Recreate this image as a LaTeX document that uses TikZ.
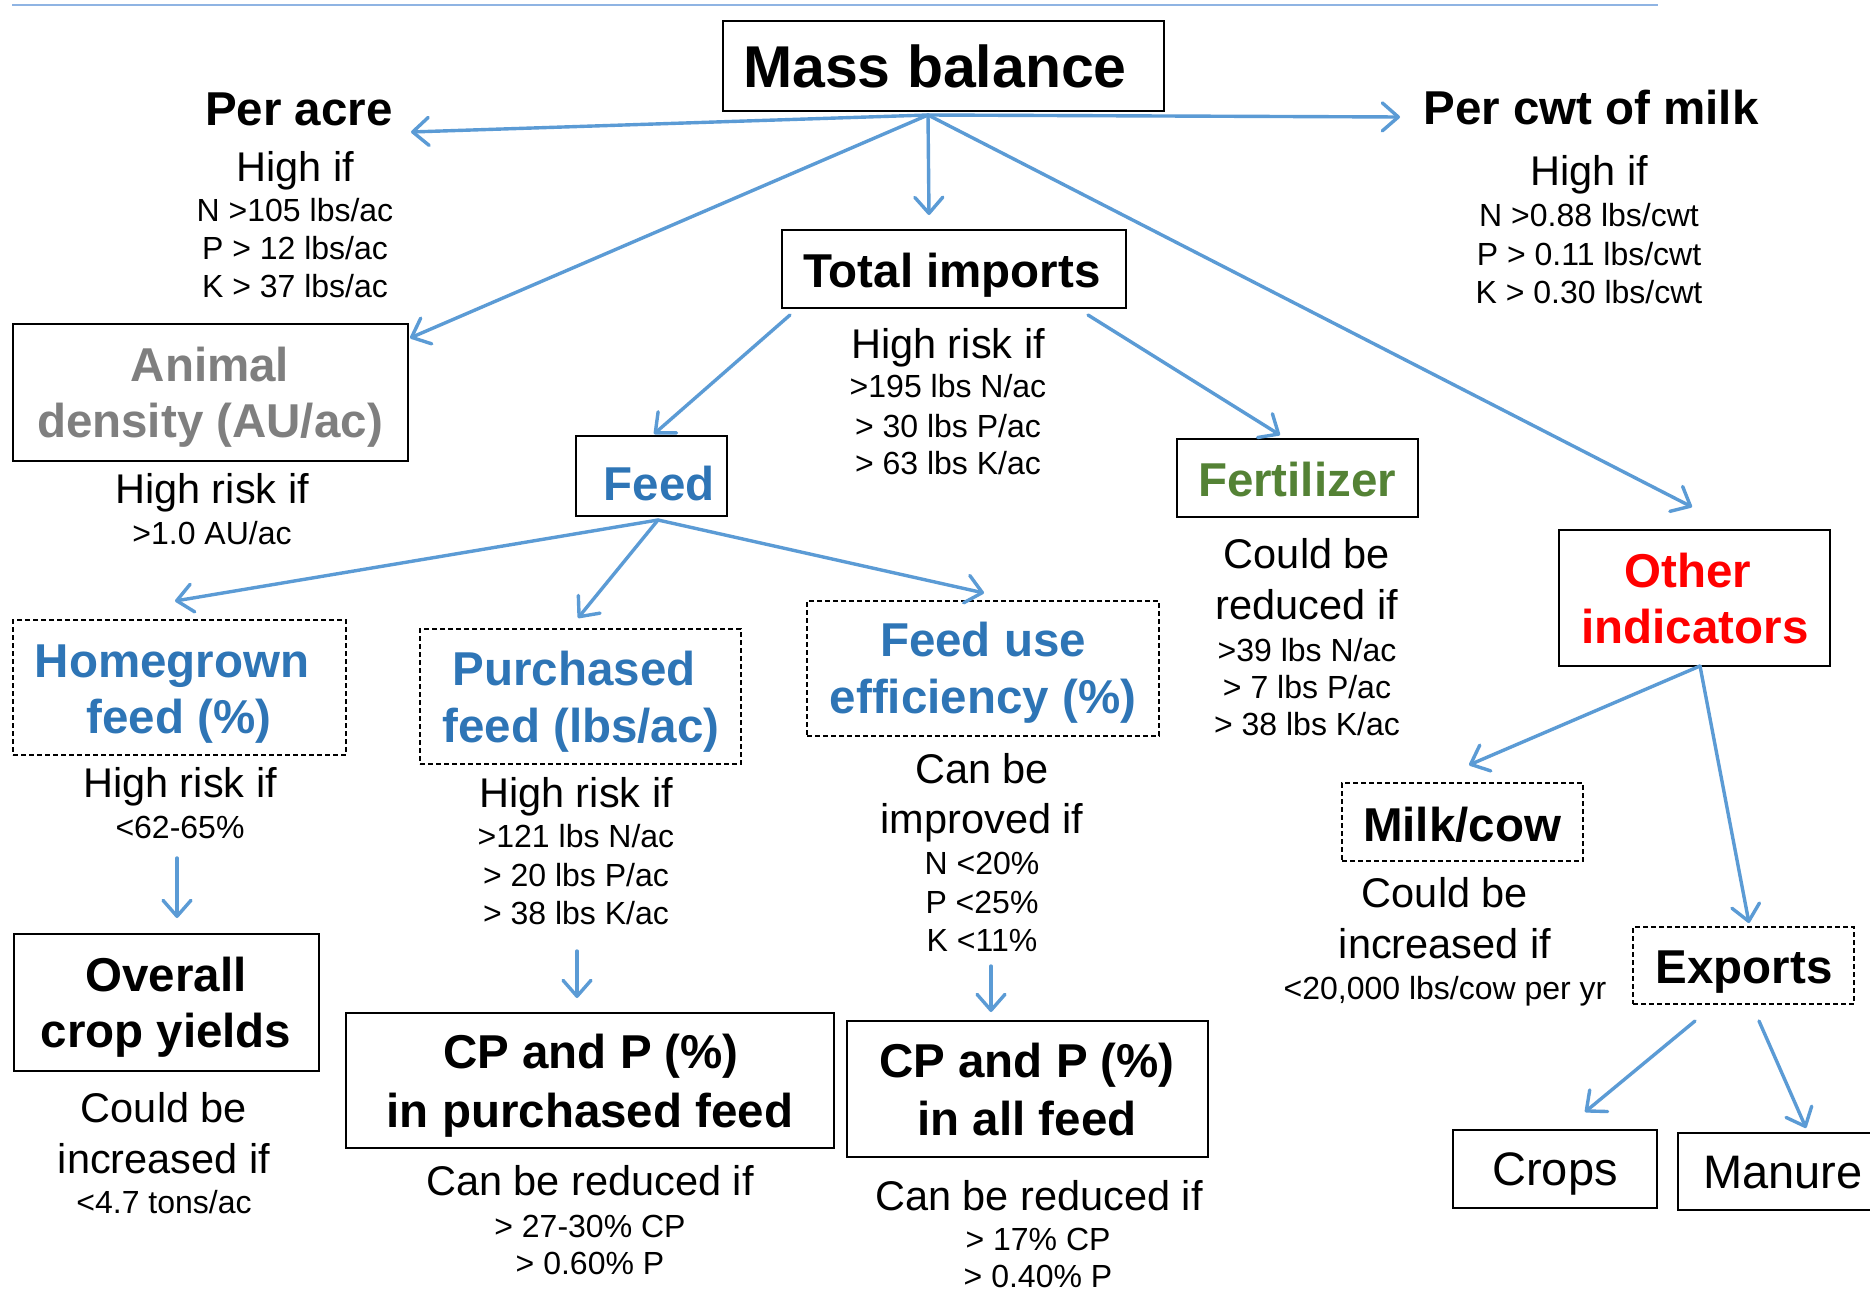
\documentclass[tikz,border=0pt]{standalone}
\usepackage{fontspec}
\setmainfont{Liberation Sans}
\usetikzlibrary{arrows.meta}
\definecolor{arrowblue}{RGB}{91,155,213}
\definecolor{lineblue}{RGB}{143,180,227}
\definecolor{labelblue}{RGB}{46,117,182}
\definecolor{fertgreen}{RGB}{84,130,53}
\definecolor{labelgray}{RGB}{127,127,127}
\definecolor{labelred}{RGB}{255,0,0}
\newcommand\boxnode[6]{\node[#6,minimum width={(#4-#2)*1pt},minimum height={(#5-#3)*1pt}] (#1) at ({(#2+#4)/2},{(#3+#5)/2}) {};}
\newcommand\txtline[5]{\node[#4] (#1) at (#2,#3) {#5};}
\begin{document}
\begin{tikzpicture}[x=1pt,y=-1pt,
  solidbox/.style={draw=black,line width=2.4pt,inner sep=0pt,outer sep=0pt},
  thinbox/.style={draw=black,line width=1.8pt,inner sep=0pt,outer sep=0pt},
  dashbox/.style={draw=black,line width=1.6pt,dash pattern=on 5pt off 3pt,inner sep=0pt,outer sep=0pt},
  huge/.style={font=\fontsize{59}{70}\selectfont\bfseries,anchor=base,inner sep=0pt},
  big/.style={font=\fontsize{47.5}{57}\selectfont\bfseries,anchor=base,inner sep=0pt},
  reg/.style={font=\fontsize{47}{57}\selectfont,anchor=base,inner sep=0pt},
  mid/.style={font=\fontsize{41.5}{50}\selectfont,anchor=base,inner sep=0pt},
  small/.style={font=\fontsize{32}{38}\selectfont,anchor=base,inner sep=0pt},
  conn/.style={draw=arrowblue,line width=3.4pt,line cap=round,line join=round,
    -{Straight Barb[length=16pt,width=28pt,line cap=round,line join=round]}}]
\useasboundingbox (0,0) rectangle (1870,1293);
\fill[white] (0,0) rectangle (1870,1293);
% top rule
\coordinate (ruleL) at (12,5);
\coordinate (ruleR) at (1658,5);
\draw[lineblue,line width=2.5pt] (ruleL) -- (ruleR);

% boxes
\boxnode{mass}{723}{21}{1164}{111}{solidbox}
\boxnode{animal}{13}{324}{408}{461}{solidbox}
\boxnode{total}{782}{230}{1126}{308}{solidbox}
\boxnode{feed}{576}{436}{727}{516}{solidbox}
\boxnode{fert}{1177}{439}{1418}{517}{solidbox}
\boxnode{other}{1559}{530}{1830}{666}{solidbox}
\boxnode{home}{13}{620}{346}{755}{dashbox}
\boxnode{purch}{420}{629}{741}{764}{dashbox}
\boxnode{fue}{807}{601}{1159}{736}{dashbox}
\boxnode{overall}{14}{934}{319}{1071}{solidbox}
\boxnode{cppurch}{346}{1013}{834}{1148}{solidbox}
\boxnode{cpall}{847}{1021}{1208}{1157}{solidbox}
\boxnode{milk}{1342}{783}{1583}{861}{dashbox}
\boxnode{exports}{1633}{927}{1854}{1004}{dashbox}
\boxnode{crops}{1453}{1130}{1657}{1208}{thinbox}
\boxnode{manure}{1678}{1133}{1878}{1210}{thinbox}

% texts
\txtline{tmass}{935}{87}{huge}{Mass balance}
\txtline{tperacre}{299}{125}{big}{Per acre}
\txtline{tpaH}{295}{181}{mid}{High if}
\txtline{tpaN}{295}{221}{small}{N >105 lbs/ac}
\txtline{tpaP}{295}{259}{small}{P > 12 lbs/ac}
\txtline{tpaK}{295}{297}{small}{K > 37 lbs/ac}

\txtline{tpercwt}{1591}{124}{big}{Per cwt of milk}
\txtline{tpcH}{1589}{185}{mid}{High if}
\txtline{tpcN}{1589}{226}{small}{N >0.88 lbs/cwt}
\txtline{tpcP}{1589}{265}{small}{P > 0.11 lbs/cwt}
\txtline{tpcK}{1589}{303}{small}{K > 0.30 lbs/cwt}

\txtline{ttotal}{952}{287}{big}{Total imports}
\txtline{ttiH}{948}{358}{mid}{High risk if}
\txtline{ttiN}{948}{397}{small}{>195 lbs N/ac}
\txtline{ttiP}{948}{437}{small}{> 30 lbs P/ac}
\txtline{ttiK}{948}{474}{small}{> 63 lbs K/ac}

\txtline{tanimalA}{210}{381}{big,text=labelgray}{Animal}
\txtline{tanimalB}{210}{437}{big,text=labelgray}{density (AU/ac)}
\txtline{tadH}{212}{503}{mid}{High risk if}
\txtline{tadV}{212}{544}{small}{>1.0 AU/ac}

\txtline{tfeed}{659}{500}{big,text=labelblue}{Feed}

\txtline{tfert}{1297}{496}{big,text=fertgreen}{Fertilizer}
\txtline{tfeA}{1307}{568}{mid}{Could be}
\txtline{tfeB}{1307}{619}{mid}{reduced if}
\txtline{tfeN}{1307}{661}{small}{>39 lbs N/ac}
\txtline{tfeP}{1307}{698}{small}{> 7 lbs P/ac}
\txtline{tfeK}{1307}{735}{small}{> 38 lbs K/ac}

\txtline{totherA}{1688}{587}{big,text=labelred}{Other}
\txtline{totherB}{1695}{643}{big,text=labelred}{indicators}

\txtline{thomeA}{172}{677}{big,text=labelblue}{Homegrown}
\txtline{thomeB}{179}{733}{big,text=labelblue}{feed (\%)}
\txtline{thoH}{180}{797}{mid}{High risk if}
\txtline{thoV}{180}{838}{small}{<62-65\%}

\txtline{tpurchA}{574}{685}{big,text=labelblue}{Purchased}
\txtline{tpurchB}{581}{742}{big,text=labelblue}{feed (lbs/ac)}
\txtline{tpuH}{576}{807}{mid}{High risk if}
\txtline{tpuN}{576}{847}{small}{>121 lbs N/ac}
\txtline{tpuP}{576}{886}{small}{> 20 lbs P/ac}
\txtline{tpuK}{576}{924}{small}{> 38 lbs K/ac}

\txtline{tfueA}{983}{656}{big,text=labelblue}{Feed use}
\txtline{tfueB}{983}{713}{big,text=labelblue}{efficiency (\%)}
\txtline{tfuA}{982}{783}{mid}{Can be}
\txtline{tfuB}{982}{833}{mid}{improved if}
\txtline{tfuN}{982}{874}{small}{N <20\%}
\txtline{tfuP}{982}{913}{small}{P <25\%}
\txtline{tfuK}{982}{951}{small}{K <11\%}

\txtline{toverA}{166}{991}{big}{Overall}
\txtline{toverB}{166}{1047}{big}{crop yields}
\txtline{tovA}{164}{1122}{mid}{Could be}
\txtline{tovB}{164}{1173}{mid}{increased if}
\txtline{tovV}{164}{1213}{small}{<4.7 tons/ac}

\txtline{tcppA}{591}{1068}{big}{CP and P (\%)}
\txtline{tcppB}{590}{1127}{big}{in purchased feed}
\txtline{tcpH}{590}{1195}{mid}{Can be reduced if}
\txtline{tcpC}{590}{1237}{small}{> 27-30\% CP}
\txtline{tcpP}{590}{1274}{small}{> 0.60\% P}

\txtline{tcpaA}{1027}{1077}{big}{CP and P (\%)}
\txtline{tcpaB}{1027}{1135}{big}{in all feed}
\txtline{tcaH}{1039}{1210}{mid}{Can be reduced if}
\txtline{tcaC}{1038}{1250}{small}{> 17\% CP}
\txtline{tcaP}{1038}{1287}{small}{> 0.40\% P}

\txtline{tmilk}{1462}{841}{big}{Milk/cow}
\txtline{tmiA}{1445}{907}{mid}{Could be}
\txtline{tmiB}{1445}{958}{mid}{increased if}
\txtline{tmiV}{1445}{999}{small}{<20,000 lbs/cow per yr}

\txtline{texports}{1744}{983}{big}{Exports}
\txtline{tcrops}{1555}{1185}{reg}{Crops}
\txtline{tmanure}{1783}{1188}{reg}{Manure}

% connector end points
\coordinate (hub) at (928,115);
\coordinate (eperacre) at (411,132);
\coordinate (epercwt) at (1400,117);
\coordinate (etotal) at (929,215);
\coordinate (eanimal) at (410,338);
\coordinate (eother) at (1692,507);
\coordinate (tiL) at (790,315);
\coordinate (tiR) at (1088,315);
\coordinate (efeed) at (654,434);
\coordinate (efert) at (1280,435);
\coordinate (feedhub) at (658,520);
\coordinate (ehome) at (175,601);
\coordinate (epurch) at (578,618);
\coordinate (efue) at (984,593);
\coordinate (homeS) at (177,858);
\coordinate (eoverall) at (177,918);
\coordinate (purchS) at (577,951);
\coordinate (ecppurch) at (577,998);
\coordinate (fueS) at (991,966);
\coordinate (ecpall) at (991,1012);
\coordinate (otherhub) at (1700,666);
\coordinate (emilk) at (1469,765);
\coordinate (eexports) at (1749,923);
\coordinate (expL) at (1695,1021);
\coordinate (expR) at (1759,1021);
\coordinate (ecrops) at (1585,1112);
\coordinate (emanure) at (1806,1128);

% connectors
\draw[conn] (hub) -- (eperacre);
\draw[conn] (hub) -- (epercwt);
\draw[conn] (hub) -- (etotal);
\draw[conn] (hub) -- (eanimal);
\draw[conn] (hub) -- (eother);
\draw[conn] (tiL) -- (efeed);
\draw[conn] (tiR) -- (efert);
\draw[conn] (feedhub) -- (ehome);
\draw[conn] (feedhub) -- (epurch);
\draw[conn] (feedhub) -- (efue);
\draw[conn] (homeS) -- (eoverall);
\draw[conn] (purchS) -- (ecppurch);
\draw[conn] (fueS) -- (ecpall);
\draw[conn] (otherhub) -- (emilk);
\draw[conn] (otherhub) -- (eexports);
\draw[conn] (expL) -- (ecrops);
\draw[conn] (expR) -- (emanure);
\end{tikzpicture}
\end{document}
